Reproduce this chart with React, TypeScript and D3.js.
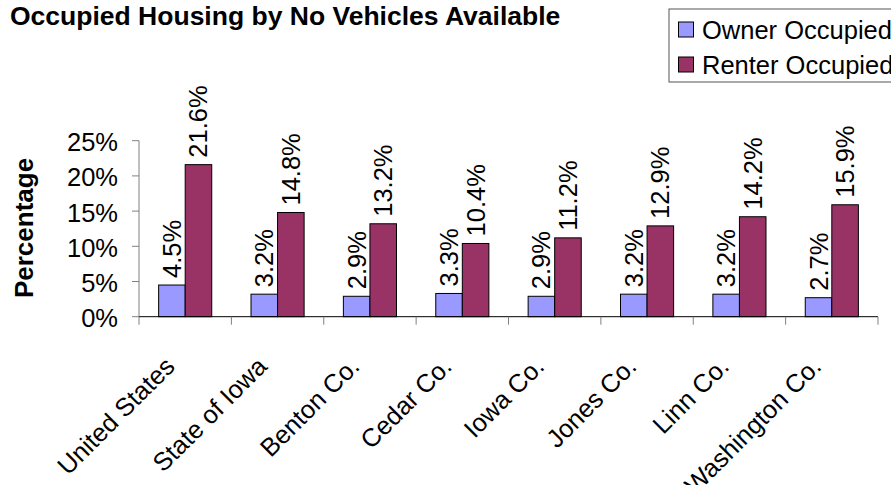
import React from 'react';
import * as d3 from 'd3';

const categories = ['United States', 'State of Iowa', 'Benton Co.', 'Cedar Co.', 'Iowa Co.', 'Jones Co.', 'Linn Co.', 'Washington Co.'];
const ownerValues = [4.5, 3.2, 2.9, 3.3, 2.9, 3.2, 3.2, 2.7];
const renterValues = [21.6, 14.8, 13.2, 10.4, 11.2, 12.9, 14.2, 15.9];
const yTicks = [0, 5, 10, 15, 20, 25];
const seriesNames = ['Owner Occupied', 'Renter Occupied'];
const seriesColors = ['#9999FF', '#993366'];

const App: React.FC = () => {
  const width = 891;
  const height = 485;
  const left = 139;
  const right = 878;
  const top = 140.7;
  const bottom = 316.7;
  const font = 'Arial, "Liberation Sans", sans-serif';
  const fs = 25.5;

  const xScale = d3.scaleBand<string>().domain(categories).range([left, right]).paddingInner(0.425).paddingOuter(0.2125);
  const inner = d3.scaleBand<number>().domain([0, 1]).range([0, xScale.bandwidth()]);
  const yScale = d3.scaleLinear().domain([0, 25]).range([bottom, top]);
  const step = xScale.step();

  const series = [ownerValues, renterValues];

  return (
    <div style={{ position: 'absolute', left: 0, top: 0 }}>
      <svg width={width} height={height} viewBox={`0 0 ${width} ${height}`} style={{ display: 'block', background: '#fff' }} fontFamily={font}>
        <text x={10} y={25} fontSize={26.5} fontWeight="bold">Occupied Housing by No Vehicles Available</text>

        {/* legend */}
        <rect x={669} y={9} width={240} height={73} fill="#fff" stroke="#555" strokeWidth={1} />
        {seriesNames.map((name, i) => (
          <g key={name}>
            <rect x={678.5} y={22 + i * 35} width={15} height={15} fill={seriesColors[i]} stroke="#000" strokeWidth={1} />
            <text x={702} y={39 + i * 35} fontSize={fs}>{name}</text>
          </g>
        ))}

        {/* y axis */}
        <line x1={left} y1={top} x2={left} y2={bottom} stroke="#808080" />
        {yTicks.map(t => (
          <g key={t}>
            <line x1={left - 7} y1={yScale(t)} x2={left} y2={yScale(t)} stroke="#808080" />
            <text x={118} y={yScale(t) + 10.5} fontSize={fs} textAnchor="end">{`${t}%`}</text>
          </g>
        ))}
        <text transform={`translate(33, 228) rotate(-90)`} fontSize={26} fontWeight="bold" textAnchor="middle">Percentage</text>

        {/* bars */}
        {categories.map((c, ci) => (
          <g key={c}>
            {series.map((vals, si) => {
              const x = (xScale(c) ?? 0) + (inner(si) ?? 0);
              const w = inner.bandwidth();
              const y = yScale(vals[ci]);
              return (
                <g key={si}>
                  <rect x={x} y={y} width={w} height={bottom - y} fill={seriesColors[si]} stroke="#000" strokeWidth={1} />
                  <text transform={`translate(${x + w / 2 + 9}, ${y - 7}) rotate(-90)`} fontSize={fs}>{`${vals[ci].toFixed(1)}%`}</text>
                </g>
              );
            })}
          </g>
        ))}

        {/* x axis */}
        <line x1={left} y1={bottom} x2={right} y2={bottom} stroke="#000" />
        {d3.range(categories.length + 1).map(i => (
          <line key={i} x1={left + i * step} y1={bottom} x2={left + i * step} y2={bottom + 8} stroke="#808080" />
        ))}
        {categories.map(c => {
          const cx = (xScale(c) ?? 0) + xScale.bandwidth() / 2;
          return (
            <text key={c} transform={`translate(${cx - 9}, 368) rotate(-45)`} fontSize={fs} textAnchor="end">{c}</text>
          );
        })}
      </svg>
    </div>
  );
};

export default App;
